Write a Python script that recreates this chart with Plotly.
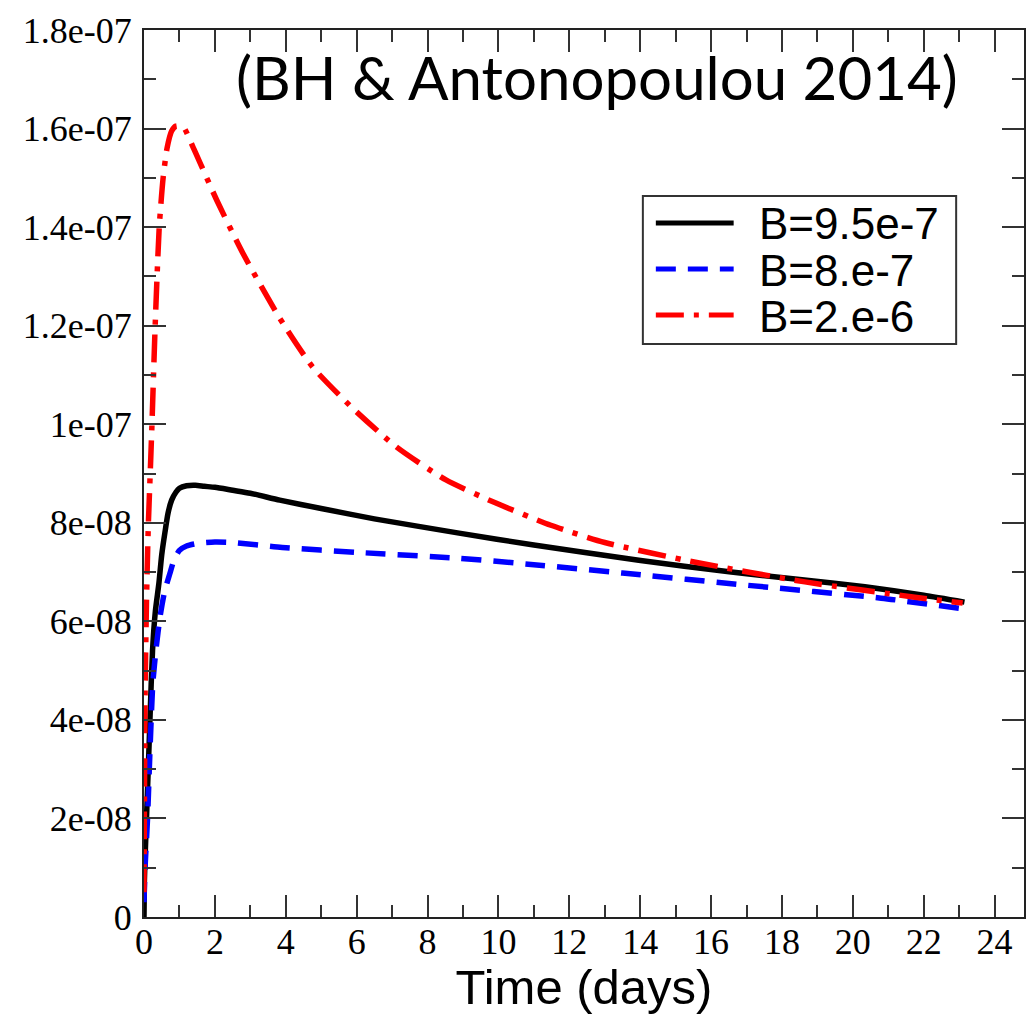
import plotly.graph_objects as go

# Light-curve data: time in days, flux in units of 1e-8
t_b95 = [0, 0.01, 0.04, 0.07, 0.12, 0.17, 0.24, 0.32, 0.42, 0.5, 0.59, 0.68, 0.78,
         0.9, 1.0, 1.2, 1.45, 1.7, 2.0, 2.5, 3.0, 3.83, 5.0, 6.5, 8.89, 11.0,
         13.96, 16.57, 18.5, 20.34, 22.0, 23.15]
f_b95 = [0, 0.7, 1.4, 2.0, 3.0, 4.05, 5.4, 6.2, 6.77, 7.35, 7.8, 8.2, 8.46,
         8.62, 8.7, 8.75, 8.76, 8.74, 8.72, 8.66, 8.6, 8.46, 8.29, 8.08, 7.79, 7.55,
         7.24, 7.0, 6.85, 6.7, 6.53, 6.39]

t_b8 = [0, 0.03, 0.1, 0.17, 0.25, 0.35, 0.45, 0.58, 0.73, 0.85, 1.0, 1.2, 1.5,
        2.0, 2.5, 3.9, 6.0, 8.89, 11.0, 13.5, 17.05, 20.8, 23.15]
f_b8 = [0.3, 1.0, 2.0, 3.4, 4.75, 5.5, 6.08, 6.6, 6.97, 7.25, 7.44, 7.53, 7.58,
        7.61, 7.6, 7.5, 7.4, 7.28, 7.15, 6.98, 6.73, 6.47, 6.25]

t_b2 = [0, 0.01, 0.03, 0.07, 0.12, 0.17, 0.22, 0.31, 0.43, 0.54, 0.65, 0.78, 0.9,
        1.1, 1.38, 2.05, 2.79, 3.83, 4.76, 5.88, 7.12, 8.52, 9.93, 11.48, 13.0,
        15.56, 18.65, 21.75, 23.1]
f_b2 = [0.5, 2.0, 4.5, 6.4, 7.9, 8.9, 9.9, 11.9, 14.0, 15.0, 15.6, 15.95, 16.05,
        16.04, 15.63, 14.55, 13.47, 12.15, 11.16, 10.33, 9.54, 8.87, 8.4, 7.95, 7.6,
        7.2, 6.8, 6.49, 6.37]

series_names = ["B=9.5e-7", "B=8.e-7", "B=2.e-6"]
series_colors = ["black", "#0000ff", "#ff0000"]
series_dashes = ["solid", "20px,12px", "28px,10px,5px,10px"]

y_tickvals = [0, 2e-8, 4e-8, 6e-8, 8e-8, 1e-7, 1.2e-7, 1.4e-7, 1.6e-7, 1.8e-7]
y_ticktext = ["0", "2e-08", "4e-08", "6e-08", "8e-08", "1e-07",
              "1.2e-07", "1.4e-07", "1.6e-07", "1.8e-07"]
x_tickvals = list(range(0, 25, 2))

SCALE = 1e-8

fig = go.Figure()
for t, f, name, color, dash in zip([t_b95, t_b8, t_b2], [f_b95, f_b8, f_b2],
                                   series_names, series_colors, series_dashes):
    fig.add_trace(go.Scatter(
        x=t, y=[v * SCALE for v in f], mode="lines", name=name,
        line=dict(color=color, width=5.5, dash=dash, shape="spline", smoothing=0.6),
        showlegend=False,
    ))

axis_common = dict(
    showline=True, linecolor="#222", linewidth=2, mirror="ticks",
    ticks="inside", ticklen=22, tickwidth=2, tickcolor="#333",
    showgrid=False, zeroline=False,
    tickfont=dict(family="Liberation Serif", size=36, color="black"),
)

fig.update_xaxes(
    range=[0, 24.83], tickvals=x_tickvals, ticklabelstandoff=-8,
    minor=dict(ticks="inside", ticklen=12, tickwidth=2, tickcolor="#333", dtick=1, tick0=0),
    title=dict(text="Time (days)", font=dict(family="Liberation Sans", size=49, color="black"),
               standoff=8),
    **axis_common,
)
fig.update_yaxes(
    range=[0, 1.8e-7], tickvals=y_tickvals, ticktext=y_ticktext, ticklabelstandoff=3,
    minor=dict(ticks="inside", ticklen=12, tickwidth=2, tickcolor="#333", dtick=1e-8, tick0=0),
    **axis_common,
)

# Legend box drawn in paper coordinates
PX_L, PX_R, PX_T, PX_B = 144, 1026, 30, 917


def px(xp):
    return (xp - PX_L) / (PX_R - PX_L)


def py(yp):
    return (PX_B - yp) / (PX_B - PX_T)


shapes = [dict(type="rect", xref="paper", yref="paper",
               x0=px(644), x1=px(958), y0=py(344), y1=py(196),
               line=dict(color="#333", width=2), fillcolor="white", layer="above")]
annotations = []
row_y = [223, 269, 315]
for name, color, dash, yy in zip(series_names, series_colors, series_dashes, row_y):
    shapes.append(dict(type="line", xref="paper", yref="paper",
                       x0=px(657), x1=px(735), y0=py(yy), y1=py(yy),
                       line=dict(color=color, width=5, dash=dash), layer="above"))
    annotations.append(dict(text=name, xref="paper", yref="paper", x=px(758), y=py(yy + 1),
                            xanchor="left", yanchor="middle", showarrow=False,
                            font=dict(family="Liberation Sans", size=44, color="black")))

annotations.append(dict(text="(BH & Antonopoulou 2014)", xref="paper", yref="paper",
                        x=px(598), y=py(77), xanchor="center", yanchor="middle",
                        showarrow=False,
                        font=dict(family="Lato", size=60, color="black")))

fig.update_layout(
    width=1026, height=1014,
    margin=dict(l=144, r=0, t=30, b=97),
    paper_bgcolor="white", plot_bgcolor="white",
    shapes=shapes, annotations=annotations,
)

fig.write_html("out.html")
